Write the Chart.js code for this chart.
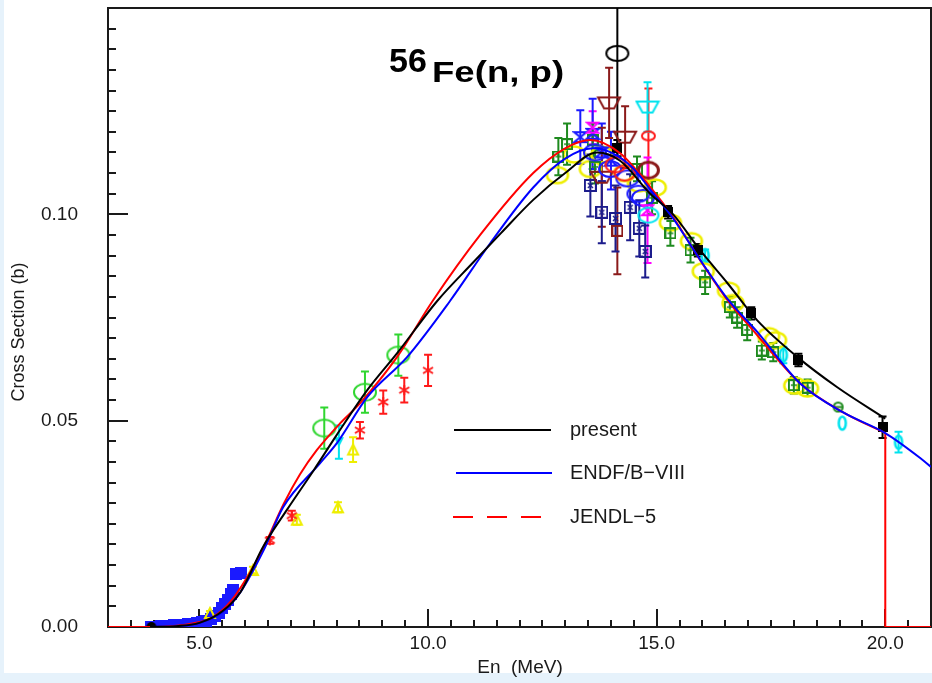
<!DOCTYPE html>
<html>
<head>
<meta charset="utf-8">
<script src="https://cdn.jsdelivr.net/npm/chart.js@4.4.1/dist/chart.umd.min.js"></script>
<style>
  html, body { margin: 0; padding: 0; background: #e6f2fb; }
  #wrap { width: 932px; height: 683px; }
</style>
</head>
<body>
<div id="wrap"><canvas id="chart" width="932" height="683"></canvas></div>
<script>
// axis ranges and ticks
const X_MIN = 3, X_MAX = 21, Y_MIN = 0, Y_MAX = 0.15;
const xTickVals = [5, 10, 15, 20];
const xTickLabels = ["5.0", "10.0", "15.0", "20.0"];
const yTickVals = [0, 0.05, 0.10];
const yTickLabels = ["0.00", "0.05", "0.10"];

// evaluated curves
const presentE = [3.92, 4.5, 5.0, 5.5, 5.9, 6.39, 6.92, 7.5, 8.0, 8.67, 9.32, 10.2, 11.0, 11.6, 12.3, 13.0, 13.7, 14.2, 14.86, 15.36, 15.95, 16.55, 17.2, 18.08, 18.95, 20.0];
const presentY = [0, 0.0002, 0.0010, 0.0038, 0.0085, 0.0194, 0.0285, 0.0380, 0.0465, 0.0574, 0.0663, 0.0790, 0.0885, 0.0955, 0.1035, 0.1100, 0.1150, 0.1130, 0.1050, 0.1000, 0.0913, 0.0833, 0.0743, 0.0654, 0.0581, 0.0505];

const endfE = [3.92, 4.5, 5.0, 5.5, 5.9, 6.4, 6.83, 7.64, 8.01, 8.67, 9.54, 10.48, 11.36, 12.3, 13.0, 13.6, 14.0, 14.5, 14.86, 15.36, 15.95, 16.55, 17.2, 18.14, 19.08, 20.0, 20.77, 21.0];
const endfY = [0, 0.0002, 0.0010, 0.0036, 0.0085, 0.0185, 0.0290, 0.0397, 0.0446, 0.0557, 0.0654, 0.0790, 0.0930, 0.1065, 0.1135, 0.1160, 0.1150, 0.1110, 0.1060, 0.0990, 0.0890, 0.0795, 0.0715, 0.0590, 0.0520, 0.0470, 0.0409, 0.0388];

const jendlE = [3.0, 3.9, 4.5, 5.0, 5.3, 5.67, 6.04, 6.39, 6.85, 7.2, 7.57, 8.08, 8.51, 9.32, 10.1, 11.14, 12.3, 13.0, 13.55, 14.2, 14.86, 15.36, 15.95, 16.55, 17.1, 18.14, 19.08, 20.0];
const jendlY = [0, 0, 0.0003, 0.0012, 0.0024, 0.0060, 0.0120, 0.0190, 0.0300, 0.0370, 0.0429, 0.0494, 0.0542, 0.0654, 0.0790, 0.0950, 0.1100, 0.1160, 0.1180, 0.1148, 0.1066, 0.0993, 0.0889, 0.0792, 0.0720, 0.0590, 0.0520, 0.0470];
const jendlTailE = [20.0, 20.0, 21.0];
const jendlTailY = [0.0470, 0, 0];

// experimental data
const blueSqE = [3.95, 4.05, 4.15, 4.25, 4.35, 4.45, 4.55, 4.65, 4.75, 4.85, 4.95, 5.05, 5.15, 5.25, 5.35, 5.42, 5.5, 5.56, 5.62, 5.68, 5.74, 5.8, 5.9];
const blueSqY = [0.0001, 0.0001, 0.0002, 0.0002, 0.0003, 0.0004, 0.0005, 0.0006, 0.0007, 0.0008, 0.0010, 0.0012, 0.0015, 0.0020, 0.0027, 0.0035, 0.0045, 0.0055, 0.0065, 0.0080, 0.0090, 0.0128, 0.0130];
const blackDotE = [3.95];
const blackDotY = [0];

const yellowTriE = [5.23, 6.17, 7.13, 8.03, 8.36];
const yellowTriY = [0.0034, 0.0138, 0.0260, 0.0290, 0.0430];
const yellowTriErr = [0.0005, 0.0008, 0.0012, 0.0012, 0.0030];

const redStarE = [6.54, 7.02, 8.51, 9.02, 9.48, 10.0];
const redStarY = [0.0210, 0.0270, 0.0477, 0.0545, 0.0574, 0.0622];
const redStarErr = [0.0008, 0.0012, 0.0020, 0.0028, 0.0030, 0.0038];

const limeEllE = [7.73, 8.62, 9.35];
const limeEllY = [0.0482, 0.0569, 0.0659];
const limeEllErr = [0.0050, 0.0050, 0.0050];

const cyanTriE = [8.05];
const cyanTriY = [0.0448];
const cyanTriErr = [0.0040];

const yellowEllE = [12.83, 13.2, 13.55, 13.8, 14.3, 14.6, 14.97, 15.3, 15.76, 16.02, 16.57, 16.67, 17.45, 17.6, 18.02, 18.3];
const yellowEllY = [0.1095, 0.1145, 0.1110, 0.1145, 0.1100, 0.1075, 0.1065, 0.0980, 0.0935, 0.0862, 0.0815, 0.0785, 0.0705, 0.0695, 0.0585, 0.0578];

const greenSqE = [12.85, 13.04, 13.6, 13.65, 14.57, 14.9, 15.3, 15.74, 16.06, 16.6, 16.76, 16.98, 17.3, 17.55, 18.0, 18.3];
const greenSqY = [0.1140, 0.1170, 0.1180, 0.1115, 0.1110, 0.1040, 0.0954, 0.0913, 0.0835, 0.0775, 0.0750, 0.0720, 0.0670, 0.0666, 0.0586, 0.0580];
const greenSqErr = [0.0045, 0.0050, 0.0040, 0.0040, 0.0030, 0.0040, 0.0030, 0.0030, 0.0028, 0.0025, 0.0025, 0.0025, 0.0022, 0.0022, 0.0020, 0.0020];

const navyBoxE = [13.55, 13.8, 14.1, 14.42, 14.62, 14.75];
const navyBoxY = [0.1070, 0.1005, 0.0990, 0.1017, 0.0966, 0.0910];
const navyBoxErr = [0.0075, 0.0075, 0.0080, 0.0080, 0.0068, 0.0063];

const brownTrapE = [13.96, 14.31, 13.8];
const brownTrapY = [0.1270, 0.1187, 0.1090];
const brownTrapErr = [0.0085, 0.0075, 0.0120];
const brownSqE = [14.14];
const brownSqY = [0.0960];
const brownSqErr = [0.0105];
const brownEllE = [14.82];
const brownEllY = [0.1107];

const blueBowE = [13.33, 13.6, 13.8, 14.0];
const blueBowY = [0.1187, 0.1195, 0.1150, 0.1130];
const blueBowErr = [0.0065, 0.0085, 0.0070, 0.0070];
const blueEllE = [13.65, 13.98, 14.36, 14.6, 14.7];
const blueEllY = [0.1150, 0.1110, 0.1087, 0.1050, 0.1040];

const magentaBowE = [13.6, 14.8];
const magentaBowY = [0.1210, 0.1010];
const magentaBowErr = [0.0040, 0.0128];

const cyanTrapE = [14.8];
const cyanTrapY = [0.1260];
const cyanTrapErr = [0.0060];
const cyanEllE = [14.82];
const cyanEllY = [0.0998];

const redSmallE = [14.82];
const redSmallY = [0.1190];
const redSmallErr = [0.0115];
const redEllE = [14.1, 14.3];
const redEllY = [0.1120, 0.1100];

const blackEllE = [14.14];
const blackEllY = [0.1390];
const blackEllErr = [0.0250];

const blackSqE = [14.14, 15.25, 15.9, 17.07, 18.1, 19.94];
const blackSqY = [0.1160, 0.1005, 0.0913, 0.0760, 0.0647, 0.0484];
const blackSqErr = [0.0020, 0.0015, 0.0015, 0.0015, 0.0015, 0.0026];

const cyanTallE = [16.06, 17.77, 19.06, 20.29];
const cyanTallY = [0.0900, 0.0659, 0.0494, 0.0448];
const cyanTallErr = [0.0015, 0.0020, 0, 0.0025];

const greenDotE = [18.97];
const greenDotY = [0.0533];

// ---- markers ----
function mk(w, h, fn) {
  const c = document.createElement("canvas");
  c.width = w; c.height = h;
  const g = c.getContext("2d");
  g.lineWidth = 2;
  g.lineJoin = "miter";
  fn(g, w, h);
  return c;
}
function ellMk(col, rx, ry, lw) {
  const w = Math.ceil(rx * 2 + lw + 2), h = Math.ceil(ry * 2 + lw + 2);
  return mk(w, h, g => {
    g.strokeStyle = col; g.lineWidth = lw;
    g.beginPath(); g.ellipse(w / 2, h / 2, rx, ry, 0, 0, Math.PI * 2); g.stroke();
  });
}
function sqFill(col, s) {
  return mk(s, s, g => { g.fillStyle = col; g.fillRect(0, 0, s, s); });
}
function boxX(col, s) {
  return mk(s + 2, s + 2, g => {
    g.strokeStyle = col;
    g.strokeRect(1, 1, s, s);
    g.lineWidth = 1.5;
    g.beginPath();
    g.moveTo(4, 4); g.lineTo(s - 2, s - 2);
    g.moveTo(s - 2, 4); g.lineTo(4, s - 2);
    g.stroke();
  });
}
function boxG(col, s) {
  return mk(s + 2, s + 2, g => {
    g.strokeStyle = col;
    g.strokeRect(1, 1, s, s);
    g.lineWidth = 1.5;
    g.beginPath();
    g.moveTo(3, (s + 2) / 2); g.lineTo(s - 1, (s + 2) / 2);
    g.moveTo((s + 2) / 2, 3); g.lineTo((s + 2) / 2, (s + 2) / 2);
    g.stroke();
  });
}
function trapDown(col, wt, wb, h) {
  return mk(wt + 4, h + 4, g => {
    g.strokeStyle = col;
    const cx = (wt + 4) / 2;
    g.beginPath();
    g.moveTo(cx - wt / 2, 2); g.lineTo(cx + wt / 2, 2);
    g.lineTo(cx + wb / 2, h + 2); g.lineTo(cx - wb / 2, h + 2); g.closePath();
    g.stroke();
  });
}
function bowtie(col, w, h) {
  return mk(w + 4, h + 4, g => {
    g.strokeStyle = col;
    g.beginPath();
    g.moveTo(2, 2); g.lineTo(w + 2, 2); g.lineTo(2, h + 2); g.lineTo(w + 2, h + 2); g.closePath();
    g.stroke();
  });
}
function triUp(col, s, fill) {
  return mk(s + 4, s + 4, g => {
    g.strokeStyle = col; g.fillStyle = col;
    g.beginPath();
    g.moveTo((s + 4) / 2, 2); g.lineTo(s + 2, s + 2); g.lineTo(2, s + 2); g.closePath();
    fill ? g.fill() : g.stroke();
  });
}
function triDown(col, s, fill) {
  return mk(s + 4, s + 4, g => {
    g.strokeStyle = col; g.fillStyle = col;
    g.beginPath();
    g.moveTo(2, 2); g.lineTo(s + 2, 2); g.lineTo((s + 4) / 2, s + 2); g.closePath();
    fill ? g.fill() : g.stroke();
  });
}
function starMk(col, s) {
  return mk(s + 4, s + 4, g => {
    g.strokeStyle = col;
    const c = (s + 4) / 2, r = s / 2;
    g.beginPath();
    g.moveTo(c, c - r); g.lineTo(c, c + r);
    g.moveTo(c - r, c - r * 0.6); g.lineTo(c + r, c + r * 0.6);
    g.moveTo(c + r, c - r * 0.6); g.lineTo(c - r, c + r * 0.6);
    g.stroke();
  });
}
function dotLine(col, s) {
  return mk(s + 4, s + 4, g => {
    g.strokeStyle = col;
    const c = (s + 4) / 2;
    g.beginPath(); g.arc(c, c, s / 2, 0, Math.PI * 2);
    g.moveTo(c - s / 2, c); g.lineTo(c + s / 2, c);
    g.stroke();
  });
}
function discMk(col, r) {
  return mk(r * 2 + 2, r * 2 + 2, g => {
    g.fillStyle = col; g.beginPath(); g.arc(r + 1, r + 1, r, 0, Math.PI * 2); g.fill();
  });
}

const C = {
  yellow: "#eeee00", lime: "#2fd62f", green: "#1e8a1e", navy: "#1c1c8c",
  brown: "#8b1a1a", blue: "#1a1aff", magenta: "#ff00ff", cyan: "#00e3ee",
  red: "#ff1a1a", black: "#000000"
};

const pts = (E, Y) => E.map((e, i) => ({ x: e, y: Y[i] }));

function exp(E, Y, err, color, style) {
  return {
    data: pts(E, Y), errs: err, errColor: color,
    pointStyle: style, pointRadius: 6, showLine: false,
    borderColor: color, backgroundColor: color
  };
}
function curve(E, Y, color) {
  return {
    data: pts(E, Y), showLine: true, pointRadius: 0, borderWidth: 2,
    borderColor: color, backgroundColor: color, cubicInterpolationMode: "monotone", fill: false
  };
}

const datasets = [
  curve(presentE, presentY, "#000000"),
  curve(endfE, endfY, "#0000ff"),
  curve(jendlE, jendlY, "#ff0000"),
  Object.assign(curve(jendlTailE, jendlTailY, "#ff0000"), { cubicInterpolationMode: "default", tension: 0 }),
  exp(blackDotE, blackDotY, null, C.black, discMk(C.black, 5)),
  exp(blackSqE, blackSqY, blackSqErr, C.black, sqFill(C.black, 10)),
  exp(blackEllE, blackEllY, blackEllErr, C.black, ellMk(C.black, 11, 7.5, 2)),
  exp(redSmallE, redSmallY, redSmallErr, C.red, ellMk(C.red, 6.5, 4.5, 2)),
  exp(cyanEllE, cyanEllY, null, C.cyan, ellMk(C.cyan, 10, 7.5, 2)),
  exp(cyanTrapE, cyanTrapY, cyanTrapErr, C.cyan, trapDown(C.cyan, 22, 10, 11)),
  exp(magentaBowE, magentaBowY, magentaBowErr, C.magenta, bowtie(C.magenta, 11, 10)),
  exp(redEllE, redEllY, null, C.red, ellMk(C.red, 10, 7.5, 2)),
  exp(blueEllE, blueEllY, null, C.blue, ellMk(C.blue, 11, 8, 2)),
  exp(blueBowE, blueBowY, blueBowErr, C.blue, bowtie(C.blue, 12, 10)),
  exp(brownEllE, brownEllY, null, C.brown, ellMk(C.brown, 10, 8, 3)),
  exp(brownSqE, brownSqY, brownSqErr, C.brown, mk(12, 12, g => { g.strokeStyle = C.brown; g.strokeRect(1, 1, 10, 10); })),
  exp(brownTrapE, brownTrapY, brownTrapErr, C.brown, trapDown(C.brown, 22, 10, 11)),
  exp(navyBoxE, navyBoxY, navyBoxErr, C.navy, boxX(C.navy, 11)),
  exp(greenSqE, greenSqY, greenSqErr, C.green, boxG(C.green, 10)),
  exp(yellowEllE, yellowEllY, null, C.yellow, ellMk(C.yellow, 10.5, 8, 2.5)),
  exp(greenDotE, greenDotY, null, C.green, dotLine(C.green, 9)),
  exp(cyanTallE, cyanTallY, cyanTallErr, C.cyan, ellMk(C.cyan, 3.5, 6.5, 2.5)),
  exp(cyanTriE, cyanTriY, cyanTriErr, C.cyan, triDown(C.cyan, 10, true)),
  exp(limeEllE, limeEllY, limeEllErr, C.lime, ellMk(C.lime, 11, 8.5, 2)),
  exp(redStarE, redStarY, redStarErr, C.red, starMk(C.red, 10)),
  exp(yellowTriE, yellowTriY, yellowTriErr, C.yellow, triUp(C.yellow, 10, false)),
  exp(blueSqE, blueSqY, null, C.blue, sqFill(C.blue, 12))
];

// frame, inward ticks and error bars, under the data
const framePlugin = {
  id: "frame",
  beforeDraw(chart) {
    const { ctx, width, height } = chart;
    ctx.save();
    ctx.fillStyle = "#ffffff";
    ctx.fillRect(4, 0, width - 4, height - 10);
    ctx.restore();
  },
  beforeDatasetsDraw(chart) {
    const { ctx, chartArea: a, scales: { x, y } } = chart;
    ctx.save();
    ctx.strokeStyle = "#1a1a1a";
    ctx.lineWidth = 2;
    ctx.strokeRect(a.left, a.top, a.right - a.left, a.bottom - a.top);
    ctx.beginPath();
    for (let v = X_MIN + 0.5; v < X_MAX - 1e-6; v += 0.5) {
      const px = Math.round(x.getPixelForValue(v));
      const major = Math.abs(v / 5 - Math.round(v / 5)) < 1e-6;
      ctx.moveTo(px, a.bottom); ctx.lineTo(px, a.bottom - (major ? 18 : 7));
    }
    for (let v = Y_MIN + 0.005; v < Y_MAX - 1e-6; v += 0.005) {
      const py = Math.round(y.getPixelForValue(v));
      const major = Math.abs(v / 0.05 - Math.round(v / 0.05)) < 1e-6;
      ctx.moveTo(a.left, py); ctx.lineTo(a.left + (major ? 20 : 8), py);
    }
    ctx.stroke();

    // error bars
    ctx.beginPath();
    ctx.rect(a.left, a.top, a.right - a.left, a.bottom - a.top);
    ctx.clip();
    ctx.lineWidth = 2;
    chart.data.datasets.forEach(ds => {
      if (!ds.errs) return;
      ctx.strokeStyle = ds.errColor;
      ds.data.forEach((p, i) => {
        const e = ds.errs[i];
        if (!e) return;
        const px = x.getPixelForValue(p.x);
        const y1 = y.getPixelForValue(p.y - e), y2 = y.getPixelForValue(p.y + e);
        ctx.beginPath();
        ctx.moveTo(px, y1); ctx.lineTo(px, y2);
        ctx.moveTo(px - 4, y1); ctx.lineTo(px + 4, y1);
        ctx.moveTo(px - 4, y2); ctx.lineTo(px + 4, y2);
        ctx.stroke();
      });
    });
    ctx.restore();
  },
  afterDraw(chart) {
    const { ctx } = chart;
    ctx.save();
    ctx.fillStyle = "#000";
    // title
    ctx.textBaseline = "alphabetic";
    ctx.font = "bold 34px 'Liberation Sans', Arial, sans-serif";
    ctx.fillText("56", 389, 72);
    ctx.save();
    ctx.translate(432, 82);
    ctx.scale(1.22, 1);
    ctx.font = "bold 30px 'Liberation Sans', Arial, sans-serif";
    ctx.fillText("Fe(n, p)", 0, 0);
    ctx.restore();

    // legend
    const legend = [
      { label: "present", color: "#000000", y: 430, x1: 454, x2: 551, dash: [] },
      { label: "ENDF/B\u2212VIII", color: "#0000ff", y: 473, x1: 456, x2: 552, dash: [] },
      { label: "JENDL\u22125", color: "#ff0000", y: 517, x1: 453, x2: 541, dash: [20, 14] }
    ];
    ctx.font = "20px 'Liberation Sans', Arial, sans-serif";
    ctx.textBaseline = "middle";
    legend.forEach(l => {
      ctx.strokeStyle = l.color;
      ctx.lineWidth = 2;
      ctx.setLineDash(l.dash);
      ctx.beginPath(); ctx.moveTo(l.x1, l.y); ctx.lineTo(l.x2, l.y); ctx.stroke();
      ctx.setLineDash([]);
      ctx.fillStyle = "#1a1a1a";
      ctx.fillText(l.label, 570, l.y);
    });

    // axis titles
    ctx.font = "19px 'Liberation Sans', Arial, sans-serif";
    ctx.textAlign = "center";
    ctx.fillText("En  (MeV)", 520, 668);
    ctx.translate(19, 332);
    ctx.rotate(-Math.PI / 2);
    ctx.font = "18px 'Liberation Sans', Arial, sans-serif";
    ctx.fillText("Cross Section (b)", 0, 0);
    ctx.restore();
  }
};

new Chart(document.getElementById("chart"), {
  type: "scatter",
  data: { datasets },
  options: {
    responsive: false,
    animation: false,
    devicePixelRatio: 1,
    layout: { autoPadding: false, padding: { left: 8, top: 8, right: 1, bottom: 0 } },
    plugins: { legend: { display: false }, tooltip: { enabled: false } },
    scales: {
      x: {
        type: "linear", min: X_MIN, max: X_MAX,
        grid: { display: false, drawTicks: false },
        border: { display: false },
        afterBuildTicks: s => { s.ticks = xTickVals.map(v => ({ value: v })); },
        afterFit: s => { s.height = 56; s.paddingLeft = 0; s.paddingRight = 0; },
        ticks: {
          padding: 5, color: "#1a1a1a", maxRotation: 0,
          font: { family: "'Liberation Sans', Arial, sans-serif", size: 19 },
          callback: (v, i) => xTickLabels[i]
        }
      },
      y: {
        type: "linear", min: Y_MIN, max: Y_MAX,
        grid: { display: false, drawTicks: false },
        border: { display: false },
        afterBuildTicks: s => { s.ticks = yTickVals.map(v => ({ value: v })); },
        afterFit: s => { s.width = 100; s.paddingTop = 0; s.paddingBottom = 0; },
        ticks: {
          padding: 30, color: "#1a1a1a",
          font: { family: "'Liberation Sans', Arial, sans-serif", size: 19 },
          callback: (v, i) => yTickLabels[i]
        }
      }
    }
  },
  plugins: [framePlugin]
});
</script>
</body>
</html>
